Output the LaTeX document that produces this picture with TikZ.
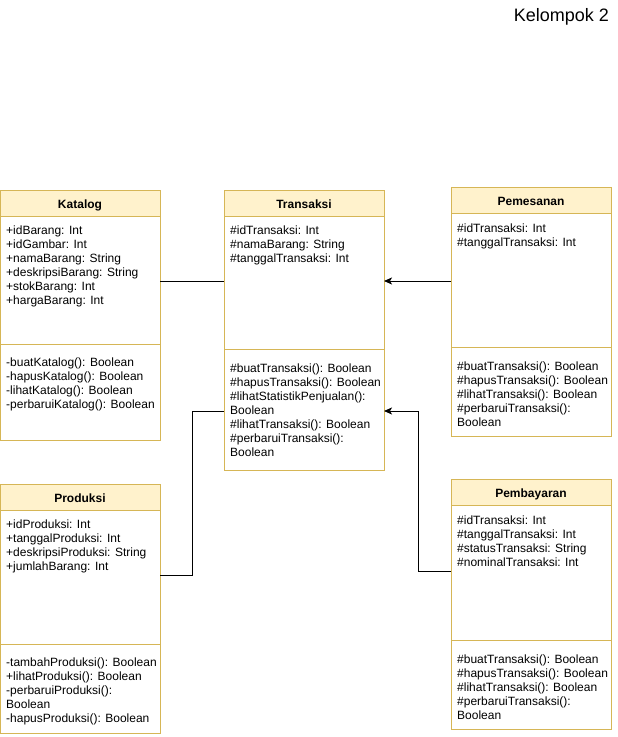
\documentclass[tikz,border=0pt]{standalone}
\usepackage{fontspec}
\setmainfont{Liberation Sans}
\usetikzlibrary{arrows.meta,calc}
\definecolor{hdrfill}{HTML}{FFF2CC}
\definecolor{hdrline}{HTML}{D6B656}
\begin{document}
\begin{tikzpicture}[x=1pt,y=-1pt,
  classbox/.style={draw=hdrline,fill=white,line width=1pt,minimum width=160pt,
    inner sep=0pt,outer sep=0pt,anchor=north west},
  header/.style={draw=hdrline,fill=hdrfill,line width=1pt,minimum width=160pt,
    minimum height=26pt,inner sep=0pt,outer sep=0pt,anchor=north west,
    font=\fontsize{12}{14}\selectfont\bfseries,text height=13.5pt,text depth=2pt},
  divider/.style={draw=hdrline,line width=1pt},
  members/.style={anchor=north west,inner sep=0pt,align=left,
    font=\fontsize{12}{14}\selectfont},
  link/.style={draw=black,line width=1pt},
  assoc/.style={link,-{Stealth[length=8pt,width=7pt,inset=2pt]}}]

\fill[white] (0,0) rectangle (618,737);
\useasboundingbox (0,0) rectangle (618,737);

\node[anchor=east,inner sep=0pt,font=\fontsize{18}{20}\selectfont] (title) at (609,17) {Kelompok 2};

% Katalog
\node[classbox,minimum height=250pt] (katalog) at (0,190) {};
\node[header] (katalogH) at (0,190) {Katalog};
\draw[divider] (0,344) -- (160,344);
\node[members] (katalogA) at (6,225.5) {+idBarang: Int\\+idGambar: Int\\+namaBarang: String\\+deskripsiBarang: String\\+stokBarang: Int\\+hargaBarang: Int};
\node[members] (katalogM) at (6,357.5) {-buatKatalog(): Boolean\\-hapusKatalog(): Boolean\\-lihatKatalog(): Boolean\\-perbaruiKatalog(): Boolean};

% Transaksi
\node[classbox,minimum height=280pt] (transaksi) at (224,190) {};
\node[header] (transaksiH) at (224,190) {Transaksi};
\draw[divider] (224,349) -- (384,349);
\node[members] (transaksiA) at (230,225.5) {\#idTransaksi: Int\\\#namaBarang: String\\\#tanggalTransaksi: Int};
\node[members] (transaksiM) at (230,363.5) {\#buatTransaksi(): Boolean\\\#hapusTransaksi(): Boolean\\\#lihatStatistikPenjualan():\\Boolean\\\#lihatTransaksi(): Boolean\\\#perbaruiTransaksi():\\Boolean};

% Pemesanan
\node[classbox,minimum height=249pt] (pemesanan) at (451,187) {};
\node[header] (pemesananH) at (451,187) {Pemesanan};
\draw[divider] (451,347) -- (611,347);
\node[members] (pemesananA) at (457,223.5) {\#idTransaksi: Int\\\#tanggalTransaksi: Int};
\node[members] (pemesananM) at (457,361.5) {\#buatTransaksi(): Boolean\\\#hapusTransaksi(): Boolean\\\#lihatTransaksi(): Boolean\\\#perbaruiTransaksi():\\Boolean};

% Produksi
\node[classbox,minimum height=249pt] (produksi) at (0,484) {};
\node[header] (produksiH) at (0,484) {Produksi};
\draw[divider] (0,644) -- (160,644);
\node[members] (produksiA) at (6,519.5) {+idProduksi: Int\\+tanggalProduksi: Int\\+deskripsiProduksi: String\\+jumlahBarang: Int};
\node[members] (produksiM) at (6,657.5) {-tambahProduksi(): Boolean\\+lihatProduksi(): Boolean\\-perbaruiProduksi():\\Boolean\\-hapusProduksi(): Boolean};

% Pembayaran
\node[classbox,minimum height=250pt] (pembayaran) at (451,479) {};
\node[header] (pembayaranH) at (451,479) {Pembayaran};
\draw[divider] (451,640) -- (611,640);
\node[members] (pembayaranA) at (457,515.5) {\#idTransaksi: Int\\\#tanggalTransaksi: Int\\\#statusTransaksi: String\\\#nominalTransaksi: Int};
\node[members] (pembayaranM) at (457,654.5) {\#buatTransaksi(): Boolean\\\#hapusTransaksi(): Boolean\\\#lihatTransaksi(): Boolean\\\#perbaruiTransaksi():\\Boolean};

% Connectors
\draw[link] ($(katalog.north east)+(0,91)$) -- ($(transaksi.north west)+(0,91)$);
\draw[assoc] ($(pemesanan.north west)+(0,94)$) -- ($(transaksi.north east)+(0,91)$);
\draw[link] ($(produksi.north east)+(0,91)$) -- ++(32,0) |- ($(transaksi.north west)+(0,221)$);
\draw[assoc] ($(pembayaran.north west)+(0,92)$) -- ++(-33,0) |- ($(transaksi.north east)+(0,221)$);
\end{tikzpicture}
\end{document}
